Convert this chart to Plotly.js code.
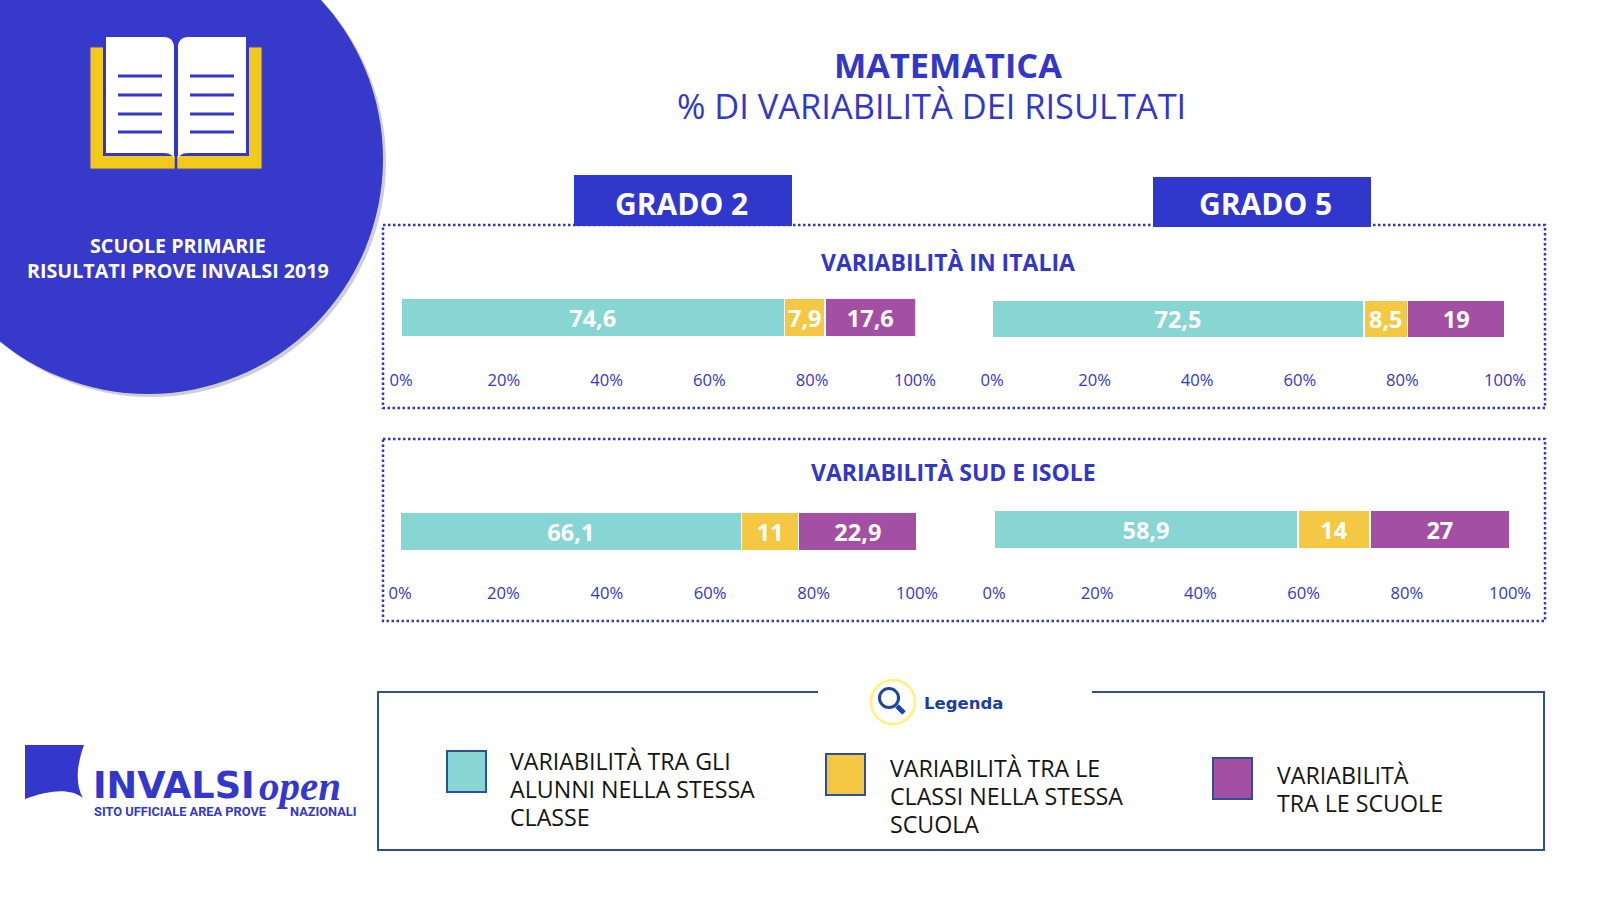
<!DOCTYPE html>
<html><head><meta charset="utf-8">
<script src="https://cdn.plot.ly/plotly-3.0.1.min.js"></script>
<style>html,body{margin:0;padding:0;background:#fff;overflow:hidden}#c{width:1600px;height:900px}</style>
</head><body><div id="c"></div>
<script>
const seriesNames = ['Variabilità tra gli alunni nella stessa classe','Variabilità tra le classi nella stessa scuola','Variabilità tra le scuole'];
const italia2 = [74.6, 7.9, 17.6];
const italia5 = [72.5, 8.5, 19];
const sud2 = [66.1, 11, 22.9];
const sud5 = [58.9, 14, 27];
const tickValues = [0, 20, 40, 60, 80, 100];
const seriesColors = ['#88d6d3', '#f5c843', '#a34fa3'];
const legendLines = [
  ['VARIABILITÀ TRA GLI','ALUNNI NELLA STESSA','CLASSE'],
  ['VARIABILITÀ TRA LE','CLASSI NELLA STESSA','SCUOLA'],
  ['VARIABILITÀ','TRA LE SCUOLE']
];

const BLUE = '#3337c9', LINE = '#2e5097', FONT = '"Open Sans", sans-serif';
const X = v => v / 1600, Y = v => 1 - v / 900;
const panels = [
  {vals: italia2, x0: 401, x1: 915.5, max: 100.1, top: 298, bot: 337, axis: 368},
  {vals: italia5, x0: 992, x1: 1505, max: 100, top: 300, bot: 338, axis: 368},
  {vals: sud2, x0: 400, x1: 917, max: 100, top: 512, bot: 551, axis: 581},
  {vals: sud5, x0: 994, x1: 1510, max: 100, top: 510, bot: 549, axis: 581}
];
const fmt = v => String(v).replace('.', ',');
const traces = [];
const layout = {
  width: 1600, height: 900, margin: {l: 0, r: 0, t: 0, b: 0},
  paper_bgcolor: '#fff', plot_bgcolor: 'rgba(0,0,0,0)',
  barmode: 'stack', bargap: 0, showlegend: false, shapes: [], annotations: []
};
panels.forEach((p, i) => {
  const n = i + 1, sfx = n === 1 ? '' : String(n);
  p.vals.forEach((v, s) => traces.push({
    type: 'bar', orientation: 'h', x: [v], y: ['Variabilità'], name: seriesNames[s],
    xaxis: 'x' + sfx, yaxis: 'y' + sfx, width: 1, showlegend: false,
    marker: {color: seriesColors[s], line: {color: '#ffffff', width: 1.5}},
    text: [fmt(v)], textposition: 'inside', insidetextanchor: 'middle', textangle: 0,
    constraintext: 'none', cliponaxis: false,
    textfont: {family: FONT, size: 23.5, color: '#fff', weight: 700}
  }));
  layout['xaxis' + sfx] = {
    domain: [X(p.x0), X(p.x1)], range: [0, p.max], anchor: 'y' + sfx, tickmode: 'array',
    tickvals: tickValues, ticktext: tickValues.map(t => t + '%'), showgrid: false, zeroline: false,
    showline: false, ticks: '', tickfont: {family: FONT, size: 16.6, color: BLUE}, fixedrange: true
  };
  const unit = p.bot - p.top;
  layout['yaxis' + sfx] = {
    domain: [Y(p.axis), Y(p.top)], range: [0.5 - (p.axis - p.top) / unit, 0.5], anchor: 'x' + sfx,
    type: 'category', showticklabels: false, showgrid: false, zeroline: false, showline: false, ticks: '', fixedrange: true
  };
});

function path(d) { // pixel path -> paper path
  return d.replace(/(-?[\d.]+)[ ,](-?[\d.]+)/g, (m, a, b) => X(+a) + ',' + Y(+b));
}
const S = layout.shapes;
const shape = (d, fill, lc, lw, dash) => S.push({type: 'path', xref: 'paper', yref: 'paper', path: path(d),
  fillcolor: fill || 'rgba(0,0,0,0)', line: {color: lc || 'rgba(0,0,0,0)', width: lw || 0, dash: dash || 'solid'}, layer: 'above'});
const rect = (x0, y0, x1, y1, fill, lc, lw, dash) => S.push({type: 'rect', xref: 'paper', yref: 'paper',
  x0: X(x0), x1: X(x1), y0: Y(y0), y1: Y(y1), fillcolor: fill || 'rgba(0,0,0,0)',
  line: {color: lc || 'rgba(0,0,0,0)', width: lw || 0, dash: dash || 'solid'}, layer: 'above'});
const circle = (cx, cy, r, fill, lc, lw) => S.push({type: 'circle', xref: 'paper', yref: 'paper',
  x0: X(cx - r), x1: X(cx + r), y0: Y(cy - r), y1: Y(cy + r), fillcolor: fill || 'rgba(0,0,0,0)',
  line: {color: lc || 'rgba(0,0,0,0)', width: lw || 0}, layer: 'above'});
const line = (x0, y0, x1, y1, c, w) => shape(`M${x0},${y0} L${x1},${y1}`, null, c, w);

// big circle
circle(151, 162, 235, '#cfcfcf');
circle(148, 159, 235, '#3639c9');
// book
rect(90, 47, 262, 169, '#f3c91a', '#4a4ac0', 1);
rect(103, 42, 249, 156, BLUE);
line(176, 150, 176, 169, BLUE, 2.5);
shape('M106,37 L164,37 C170,37 174,41 174,47 L174,160 C174,156 170,153 164,153 L106,153 Z', '#fff');
shape('M246,37 L188,37 C182,37 178,41 178,47 L178,160 C178,156 182,153 188,153 L246,153 Z', '#fff');
[76, 95, 114, 132].forEach(y => { line(118, y, 162, y, BLUE, 3); line(190, y, 234, y, BLUE, 3); });
// grade tabs and dotted frames
rect(383, 225, 1545, 408, null, BLUE, 2.5, '2.5px,2.5px');
rect(383, 439, 1545, 621, null, BLUE, 2.5, '2.5px,2.5px');
rect(574, 175, 792, 226, '#3037cc');
rect(1153, 177, 1371, 227, '#3037cc');
// legend frame
shape('M818,692 L378,692 L378,850 L1544,850 L1544,692 L1092,692', null, LINE, 2);
[[447, 751], [826, 754], [1213, 758]].forEach((p, i) => rect(p[0], p[1], p[0] + 39, p[1] + 41, seriesColors[i], LINE, 2));
// legend icon
circle(893, 702, 22, '#fff', '#fff27a', 2.5);
circle(889, 698, 9.5, null, '#1d45a0', 3);
line(897, 706, 904, 713, '#1d45a0', 5);
// logo flag
shape('M25,745 L84,745 C78,762 74,782 83,798 C70,788 50,790 25,799 Z', '#3337cc');

const A = layout.annotations;
const note = (text, x, y, size, color, opts) => A.push(Object.assign({
  text, x: X(x), y: Y(y), xref: 'paper', yref: 'paper', showarrow: false, xanchor: 'center', yanchor: 'middle',
  font: {family: FONT, size, color}
}, opts || {}));
note('<b>MATEMATICA</b>', 948, 64, 34.3, BLUE);
note('% DI VARIABILITÀ DEI RISULTATI', 931, 106, 34.4, BLUE);
note('<b>SCUOLE PRIMARIE</b>', 178, 246, 19.7, '#fff');
note('<b>RISULTATI PROVE INVALSI 2019</b>', 178, 270, 19.7, '#fff');
note('<b>GRADO 2</b>', 681, 203.5, 30, '#fff');
note('<b>GRADO 5</b>', 1265, 203.5, 30, '#fff');
note('<b>VARIABILITÀ IN ITALIA</b>', 948, 262, 23, BLUE);
note('<b>VARIABILITÀ SUD E ISOLE</b>', 954, 472, 23, BLUE);
note('<b>Legenda</b>', 922, 703, 16.5, '#1b3fa0', {xanchor: 'left', font: {family: '"DejaVu Sans"', size: 16.5, color: '#1b3fa0'}});
[[508, 761], [888, 768], [1275, 775]].forEach((p, i) => legendLines[i].forEach((t, k) =>
  note(t, p[0], p[1] + k * 28, 23.2, '#141414', {xanchor: 'left'})));
// logo text
note('<b>INVALSI</b>', 91, 785, 36.6, '#3337cc', {xanchor: 'left', font: {family: '"DejaVu Sans"', size: 36.6, color: '#3337cc'}});
note('<b><i>open</i></b>', 257, 786, 41, '#3337cc', {xanchor: 'left', font: {family: '"Liberation Serif"', size: 41, color: '#3337cc'}});
note('<b>SITO UFFICIALE AREA PROVE</b>', 92, 811, 12.8, '#3337cc', {xanchor: 'left', font: {family: 'Roboto', size: 12.8, color: '#3337cc'}});
note('<b>NAZIONALI</b>', 288, 811, 12.8, '#3337cc', {xanchor: 'left', font: {family: 'Roboto', size: 12.8, color: '#3337cc'}});

Plotly.newPlot('c', traces, layout, {displayModeBar: false, staticPlot: true});
</script></body></html>
